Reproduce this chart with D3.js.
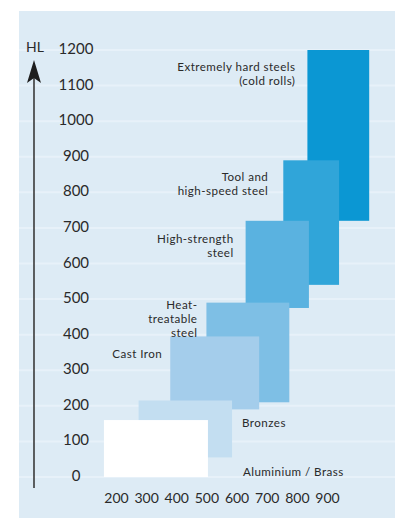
<!DOCTYPE html>
<html>
<head>
<meta charset="utf-8">
<script src="https://cdn.jsdelivr.net/npm/d3@7"></script>
<style>
  html, body { margin: 0; padding: 0; background: #ffffff; }
  svg { display: block; }
  text { font-family: Lato, "Noto Sans", sans-serif; fill: #2a2a2a; }
</style>
</head>
<body>
<div id="chart"></div>
<script>
// ---- data ----
const materials = ["Extremely hard steels (cold rolls)", "Tool and high-speed steel", "High-strength steel",
                   "Heat-treatable steel", "Cast Iron", "Bronzes", "Aluminium / Brass"];
const labelLines = [["Extremely hard steels", "(cold rolls)"], ["Tool and", "high-speed steel"],
                    ["High-strength", "steel"], ["Heat-", "treatable", "steel"], ["Cast Iron"],
                    ["Bronzes"], ["Aluminium / Brass"]];
const hlLow  = [720, 540, 475, 210, 190, 55, 0];
const hlHigh = [1200, 890, 720, 490, 395, 215, 160];
const xLow   = [835, 755, 630, 500, 380, 275, 160];
const xHigh  = [1040, 940, 840, 775, 675, 585, 505];
const yTicks = [0, 100, 200, 300, 400, 500, 600, 700, 800, 900, 1000, 1100, 1200];
const xTicks = [200, 300, 400, 500, 600, 700, 800, 900];
const yAxisTitle = "HL";

// ---- styles / layout ----
const W = 401, H = 518;
const colors = ["#0b97d3", "#30a5d9", "#5ab2e0", "#7ebfe5", "#a4cdeb", "#c3def1", "#ffffff"];
// label placement: side, dx (px from rect edge), dy (first baseline from rect top)
const labelPlace = [
  {side: "left", dx: -12, dy: 20.5},
  {side: "left", dx: -15, dy: 20.5},
  {side: "left", dx: -12, dy: 22},
  {side: "left", dx: -9, dy: 6},
  {side: "left", dx: -8, dy: 21.5},
  {side: "right", dx: 10, dy: 26.5},
  {side: "right", dx: 35, dy: 55.5}
];
const lineH = 14;

const svg = d3.select("#chart").append("svg").attr("width", W).attr("height", H);

// panel
svg.append("rect").attr("x", 19).attr("y", 11).attr("width", 376).attr("height", 507).attr("fill", "#ddebf5");

const y = d3.scaleLinear().domain([0, 1200]).range([477, 50]);
const x = d3.scaleLinear().domain([200, 900]).range([116, 327]);

// gridlines
svg.append("g").selectAll("line").data(yTicks).join("line")
  .attr("x1", 19).attr("x2", 395)
  .attr("y1", d => y(d)).attr("y2", d => y(d))
  .attr("stroke", "#e7f1f9").attr("stroke-width", 2);

// rectangles (darkest first, lightest on top)
const idx = d3.range(materials.length);
svg.append("g").selectAll("rect").data(idx).join("rect")
  .attr("x", i => x(xLow[i]))
  .attr("y", i => y(hlHigh[i]))
  .attr("width", i => x(xHigh[i]) - x(xLow[i]))
  .attr("height", i => y(hlLow[i]) - y(hlHigh[i]))
  .attr("fill", i => colors[i]);

// labels
const lab = svg.append("g").attr("font-size", 11.6).attr("letter-spacing", 0.45);
idx.forEach(i => {
  const p = labelPlace[i];
  const left = p.side === "left";
  const ax = left ? x(xLow[i]) + p.dx : x(xHigh[i]) + p.dx;
  labelLines[i].forEach((ln, k) => {
    lab.append("text")
      .attr("text-anchor", left ? "end" : "start")
      .attr("x", ax).attr("y", y(hlHigh[i]) + p.dy + k * lineH).text(ln);
  });
});

// y axis (tick labels centered)
const yAxis = d3.axisLeft(y).tickValues(yTicks).tickFormat(d3.format("d")).tickSize(0).tickPadding(0);
const gy = svg.append("g").attr("transform", "translate(76,0)").call(yAxis);
gy.select(".domain").remove();
gy.selectAll("text").attr("text-anchor", "middle").attr("dy", null).attr("y", 3.5)
  .attr("x", 0).attr("font-size", 15).style("font-family", "Lato, 'Noto Sans', sans-serif").attr("fill", "#2a2a2a");

// x axis
const xAxis = d3.axisBottom(x).tickValues(xTicks).tickFormat(d3.format("d")).tickSize(0).tickPadding(0);
const gx = svg.append("g").attr("transform", "translate(0,492)").call(xAxis);
gx.select(".domain").remove();
gx.selectAll("text").attr("dy", null).attr("y", 11).attr("font-size", 14)
  .style("font-family", "Lato, 'Noto Sans', sans-serif").attr("fill", "#2a2a2a");

// arrow axis line
svg.append("line").attr("x1", 34).attr("x2", 34).attr("y1", 76).attr("y2", 488)
  .attr("stroke", "#3a3a3a").attr("stroke-width", 1.6);
svg.append("path").attr("d", "M34,60 L41,83 L34,78 L27,83 Z").attr("fill", "#1e1e1e");

svg.append("text").attr("x", 35).attr("y", 51.5).attr("text-anchor", "middle")
  .attr("font-size", 14).text(yAxisTitle);
</script>
</body>
</html>
